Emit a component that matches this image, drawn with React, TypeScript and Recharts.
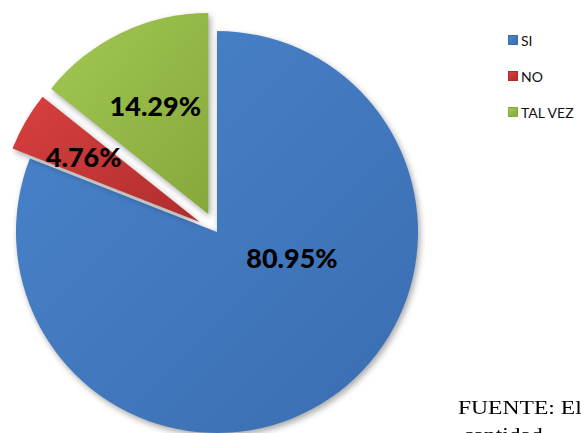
import { PieChart, Pie, Cell, Legend } from "recharts";

const categories = ["SI", "NO", "TAL VEZ"];
const values = [80.95, 4.76, 14.29];
const labels = ["80.95%", "4.76%", "14.29%"];

const colors = ["#4a84cc", "#d8403f", "#a2c852"];
const darkColors = ["#3a6db0", "#b02d2d", "#86a83c"];
const explode = [0, 20, 20];
// label offsets from each slice's own centre
const labelOffsets = [
  [75, 25],
  [-116, -66],
  [-53, -108],
];

const data = categories.map((name, i) => ({ name, value: values[i] }));

const total = values.reduce((a, b) => a + b, 0);
const CX = 217;
const CY = 232;
const R = 201;

function sliceCentre(i: number) {
  const before = values.slice(0, i).reduce((a, b) => a + b, 0);
  const mid = ((before + values[i] / 2) / total) * 360; // clockwise from top
  const rad = (mid * Math.PI) / 180;
  return {
    cx: CX + Math.sin(rad) * explode[i],
    cy: CY - Math.cos(rad) * explode[i],
  };
}

function LegendBox() {
  return (
    <div style={{ fontFamily: "Lato, 'Open Sans', sans-serif", fontSize: 14, color: "#111" }}>
      {categories.map((c, i) => (
        <div key={c} style={{ display: "flex", alignItems: "center", height: 36 }}>
          <span
            style={{
              width: 8,
              height: 8,
              marginRight: 3,
              background: `linear-gradient(135deg, ${colors[i]}, ${darkColors[i]})`,
              border: `1px solid ${darkColors[i]}`,
            }}
          />
          <span>{c}</span>
        </div>
      ))}
    </div>
  );
}

export default function App() {
  return (
    <div
      style={{
        position: "fixed",
        left: 0,
        top: 0,
        width: 581,
        height: 433,
        background: "#fff",
        overflow: "hidden",
      }}
    >
      <PieChart width={581} height={433} margin={{ top: 0, right: 0, bottom: 0, left: 0 }}>
        <defs>
          {colors.map((c, i) => (
            <linearGradient key={i} id={`g${i}`} x1="0" y1="0" x2="1" y2="1">
              <stop offset="0%" stopColor={c} />
              <stop offset="100%" stopColor={darkColors[i]} />
            </linearGradient>
          ))}
        </defs>
        {[0, 2, 1].map((k) => {
          const { cx, cy } = sliceCentre(k);
          return (
            <Pie
              key={k}
              data={data}
              dataKey="value"
              nameKey="name"
              cx={cx}
              cy={cy}
              outerRadius={R}
              startAngle={90}
              endAngle={-270}
              stroke="none"
              isAnimationActive={false}
              legendType="none"
              labelLine={false}
              label={(p: any) => {
                if (p.index !== k) return null;
                return (
                  <text
                    x={cx + labelOffsets[k][0]}
                    y={cy + labelOffsets[k][1]}
                    textAnchor="middle"
                    dominantBaseline="central"
                    fontFamily="Lato, 'Open Sans', sans-serif"
                    fontWeight={900}
                    fontSize={27}
                    fill="#000"
                  >
                    {labels[k]}
                  </text>
                );
              }}
            >
              {data.map((_, i) => (
                <Cell
                  key={i}
                  fill={i === k ? `url(#g${i})` : "transparent"}
                  style={
                    i === k
                      ? { filter: "drop-shadow(2px 3px 3px rgba(0,0,0,0.35))" }
                      : undefined
                  }
                />
              ))}
            </Pie>
          );
        })}
        <Legend
          layout="vertical"
          verticalAlign="top"
          align="right"
          wrapperStyle={{ left: 508, top: 22, width: 80 }}
          content={() => <LegendBox />}
        />
      </PieChart>
      <div
        style={{
          position: "absolute",
          left: 458,
          top: 397,
          fontFamily: "'Liberation Serif', 'Times New Roman', serif",
          fontSize: 19,
          lineHeight: "22px",
          whiteSpace: "nowrap",
          color: "#000",
          transform: "scaleX(1.24)",
          transformOrigin: "left top",
        }}
      >
        <div>FUENTE: El</div>
        <div style={{ paddingLeft: 4, marginTop: 5 }}>cantidad</div>
      </div>
    </div>
  );
}
